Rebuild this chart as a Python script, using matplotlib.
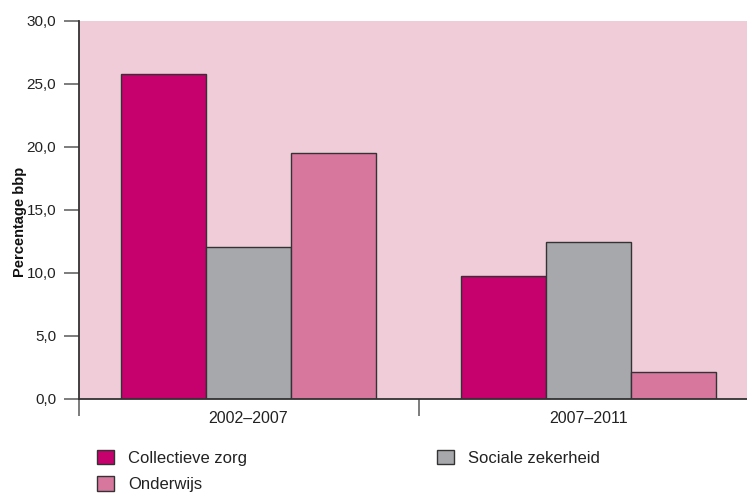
import numpy as np
import matplotlib.pyplot as plt

plt.rcParams['font.family'] = ['Liberation Sans', 'DejaVu Sans']

# Gegevens
perioden = ['2002–2007', '2007–2011']
reeksen = ['Collectieve zorg', 'Sociale zekerheid', 'Onderwijs']
collectieve_zorg = [25.8, 9.7]
sociale_zekerheid = [12.0, 12.4]
onderwijs = [19.5, 2.1]

kleuren = ['#c6006c', '#a7a8ab', '#d8779e']
achtergrond = '#f0ccd8'
rand = '#333333'

fig = plt.figure(figsize=(7.47, 4.94), dpi=100)
# assen lopen door tot voorbij de rechterrand, zoals in het origineel
ax = fig.add_axes([78.5 / 747, 95.5 / 494, 680 / 747, 377.5 / 494])
ax.set_facecolor(achtergrond)

x = np.arange(len(perioden))
breedte = 0.25
waarden = [collectieve_zorg, sociale_zekerheid, onderwijs]
balken = []
for i, (naam, w) in enumerate(zip(reeksen, waarden)):
    b = ax.bar(x + (i - 1) * breedte, w, breedte, color=kleuren[i],
               edgecolor=rand, linewidth=1.0, label=naam)
    balken.append(b)

ax.set_xlim(-0.5, 1.5)
ax.set_ylim(0, 30)
ax.set_yticks(np.arange(0, 31, 5))
ax.set_yticklabels([f'{v:.1f}'.replace('.', ',') for v in np.arange(0, 31, 5)])

# categorie-labels in het midden, streepjes op de grenzen
ax.set_xticks([-0.5, 0.5, 1.5])
ax.set_xticklabels([])
ax.set_xticks(x, minor=True)
ax.set_xticklabels(perioden, minor=True, fontsize=11.5, color='#222222')
ax.tick_params(axis='x', which='minor', length=0, pad=9)
ax.tick_params(axis='x', which='major', length=12, width=1.2, color='#666666')
ax.tick_params(axis='y', length=11, width=1.2, color='#666666', pad=5,
               labelsize=11, labelcolor='#222222')

for s in ['top', 'right']:
    ax.spines[s].set_visible(False)
for s in ['left', 'bottom']:
    ax.spines[s].set_color(rand)
    ax.spines[s].set_linewidth(1.3)

fig.text(20 / 747, 1 - 222 / 494, 'Percentage bbp', rotation=90, fontsize=10.5,
         fontweight='bold', ha='center', va='center', color='#111111')

# legenda: kolom 1 Collectieve zorg + Onderwijs, kolom 2 Sociale zekerheid
volgorde = [0, 2, 1]
leg = fig.legend([balken[i] for i in volgorde], [reeksen[i] for i in volgorde],
                 ncol=2, loc='upper left', bbox_to_anchor=(97 / 747, 1 - 450 / 494),
                 frameon=False, fontsize=12, handlelength=1.0, handleheight=0.95,
                 handletextpad=0.85, columnspacing=11.4, labelspacing=0.62,
                 borderaxespad=0, borderpad=0)
for t in leg.get_texts():
    t.set_color('#222222')

fig.savefig('out.png', dpi=100)
